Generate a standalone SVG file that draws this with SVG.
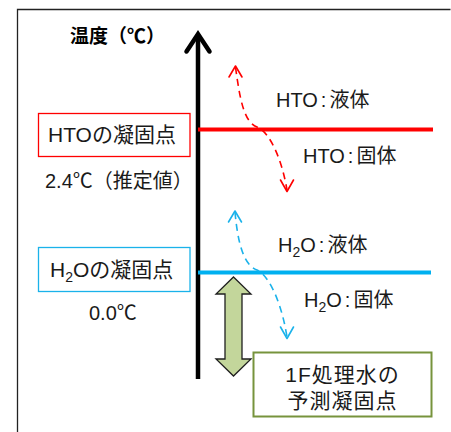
<svg xmlns="http://www.w3.org/2000/svg" width="451" height="432" viewBox="0 0 451 432">
<defs>
<style>
text{font-family:"Liberation Sans","Noto Sans CJK JP",sans-serif;font-size:20px;fill:#1a1a1a}
.title{font-size:19px;font-weight:bold;fill:#000}
.box{font-size:21px}
.dash{fill:none;stroke-width:1.6;stroke-dasharray:7 5}
.head{fill:none;stroke-width:1.6;stroke-linecap:round;stroke-linejoin:round}
.red{stroke:#ff0000}
.blue{stroke:#1ab2ea}
.sub{font-size:14px}
</style>
</defs>
<rect width="451" height="432" fill="#fff"/>
<path d="M17.5,432 V9.5 H450.5" fill="none" stroke="#222" stroke-width="1.3"/>

<g id="axis">
<line x1="198" y1="35" x2="198" y2="379" stroke="#000" stroke-width="4.5"/>
<polyline points="186.5,51.5 198,34 209.5,51.5" fill="none" stroke="#000" stroke-width="4.5" stroke-linecap="round" stroke-linejoin="miter"/>
<text class="title" x="70" y="43">温度（℃）</text>
</g>

<g id="hto-line">
<line x1="198" y1="129.5" x2="433" y2="129.5" stroke="#ff0000" stroke-width="4"/>
</g>
<g id="h2o-line">
<line x1="198" y1="272.5" x2="431" y2="272.5" stroke="#00b0f0" stroke-width="4"/>
</g>

<g id="hto-box">
<rect x="38.5" y="113.5" width="151.5" height="43" fill="#fff" stroke="#ff0000" stroke-width="1.3"/>
<text class="box" x="48" y="142">HTOの凝固点</text>
<text x="45" y="188">2.4℃（推定値）</text>
</g>

<g id="h2o-box">
<rect x="38.5" y="247.5" width="151.5" height="44" fill="#fff" stroke="#1ab2ea" stroke-width="1.3"/>
<text class="box" x="50" y="277">H<tspan class="sub" dy="5">2</tspan><tspan dy="-5">Oの凝固点</tspan></text>
<text x="89" y="320">0.0℃</text>
</g>

<g id="hto-labels">
<text x="276" y="107">HTO<tspan dx="3">:</tspan><tspan dx="3">液体</tspan></text>
<text x="303" y="163">HTO<tspan dx="3">:</tspan><tspan dx="3">固体</tspan></text>
</g>
<g id="h2o-labels">
<text x="278" y="252">H<tspan class="sub" dy="5">2</tspan><tspan dy="-5">O</tspan><tspan dx="3">:</tspan><tspan dx="3">液体</tspan></text>
<text x="304" y="307">H<tspan class="sub" dy="5">2</tspan><tspan dy="-5">O</tspan><tspan dx="3">:</tspan><tspan dx="3">固体</tspan></text>
</g>

<g id="connectors">
<path class="dash red" d="M235.5,67 C240,100 244,122 257,127 C270,132 282,160 287,190"/>
<polyline class="head red" points="229,77 235.5,66 242,77"/>
<polyline class="head red" points="280.5,180 287,191.5 293.5,180"/>
<path class="dash blue" d="M235,212 C238,245 244,265 257,270 C270,276 282,305 287,337"/>
<polyline class="head blue" points="228.5,222 235,211 241.5,222"/>
<polyline class="head blue" points="280.5,327 287,338.5 293.5,327"/>
</g>

<g id="range-arrow">
<polygon points="233.5,277 251,294 242,294 242,359 251,359 233.5,376 216,359 225,359 225,294 216,294" fill="#c3d69b" stroke="#1f1f1f" stroke-width="1.3" stroke-linejoin="miter"/>
</g>

<g id="treated-box">
<rect x="253.5" y="352.5" width="178" height="64" fill="#fff" stroke="#77933c" stroke-width="2"/>
<text class="box" x="342.5" y="382" text-anchor="middle" style="letter-spacing:1px">1F処理水の</text>
<text class="box" x="342.5" y="408" text-anchor="middle" style="letter-spacing:1px">予測凝固点</text>
</g>
</svg>
